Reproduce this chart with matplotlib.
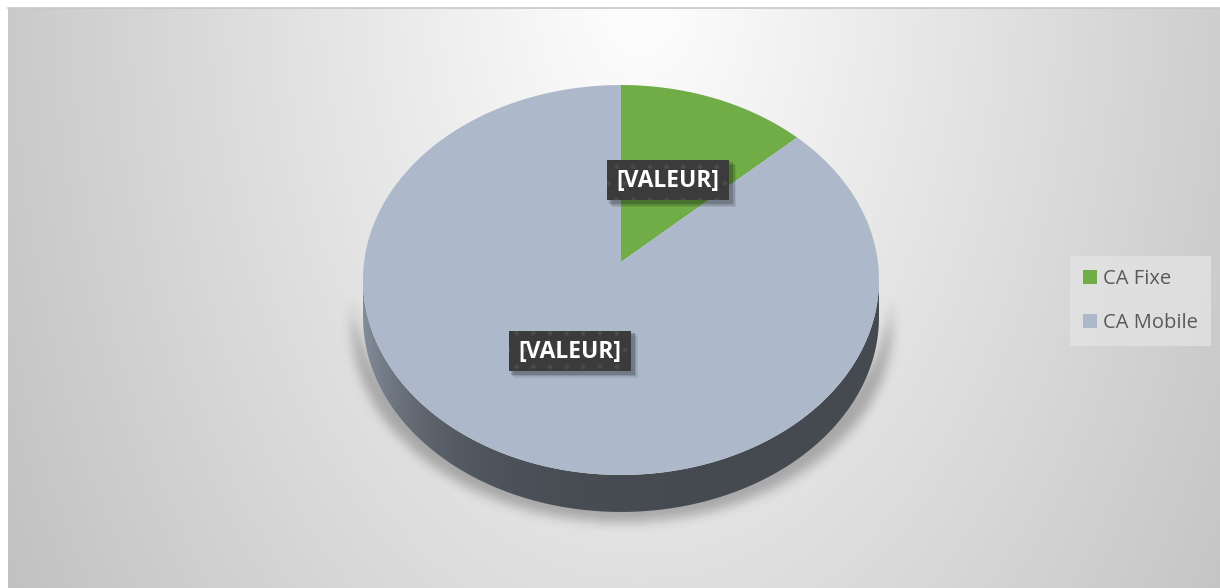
import numpy as np
import matplotlib
matplotlib.use("Agg")
import matplotlib.pyplot as plt
from matplotlib.patches import Polygon, Rectangle, Patch
from matplotlib.path import Path

# ---------------- data ----------------
categories = ["CA Fixe", "CA Mobile"]
values = [13, 87]
data_labels = ["[VALEUR]", "[VALEUR]"]
slice_colors = ["#70ad47", "#adb9ca"]

# ---------------- layout (pixel space) ----------------
W, H = 1220, 588
CX, CY = 621.0, 262.0      # projected centre of the top face
A, B = 256.9, 193.3        # projected radii
K = 0.0923                 # perspective strength
DEPTH = 37.0               # thickness of the disc in pixels

plt.rcParams['font.family'] = ['Open Sans', 'DejaVu Sans']

fig = plt.figure(figsize=(W / 100, H / 100), dpi=100)
ax = fig.add_axes([0, 0, 1, 1])
ax.set_xlim(0, W)
ax.set_ylim(H, 0)
ax.axis('off')


def proj(phi, rho=1.0, dy=0.0):
    u = rho * np.sin(phi)
    v = rho * np.cos(phi)
    w = 1 + K * v
    return CX + A * u / w, CY - B * v / w + dy


# ---------------- background ----------------
X0, Y0 = 8, 8
yy, xx = np.mgrid[Y0:H, X0:W].astype(float)
r = np.sqrt(((xx - 640) / 620) ** 2 + ((yy + 20) / 1000) ** 2)
bg = np.clip(255 - 52 * r, 150, 255) / 255.0
ax.imshow(np.dstack([bg, bg, bg]), extent=(X0, W, H, Y0), zorder=0,
          interpolation='bilinear', aspect='auto')
ax.plot([X0, W], [Y0, Y0], color='#c8c8c8', lw=1.2, zorder=1)

# ---------------- geometry ----------------
fracs = np.array(values, dtype=float) / np.sum(values)
bounds = np.concatenate([[0], np.cumsum(fracs)]) * 2 * np.pi
phiR = np.arctan2(np.sqrt(1 - K ** 2), -K)        # right silhouette
phiL = 2 * np.pi - phiR                           # left silhouette

# ---------------- shadow ----------------
ts = np.linspace(phiR, phiL, 300)
sx_top, sy_top = proj(ts)
sx_bot, sy_bot = proj(ts, dy=DEPTH)
body = np.column_stack([np.concatenate([sx_bot, sx_top[::-1]]),
                        np.concatenate([sy_bot, sy_top[::-1]])])
body[:, 0] = CX + (body[:, 0] - CX) * 1.045
body[:, 1] = body[:, 1] + 9
step = 2
gy, gx = np.mgrid[0:H:step, 0:W:step].astype(float)
mask = Path(body).contains_points(np.column_stack([gx.ravel(), gy.ravel()]))
mask = mask.reshape(gx.shape).astype(float)
fy = np.fft.fftfreq(mask.shape[0])[:, None]
fx = np.fft.fftfreq(mask.shape[1])[None, :]
sig = 5.5 / step
blur = np.real(np.fft.ifft2(np.fft.fft2(mask) *
                            np.exp(-2 * np.pi ** 2 * sig ** 2 * (fx ** 2 + fy ** 2))))
shadow = np.zeros(mask.shape + (4,))
shadow[..., 3] = np.clip(blur, 0, 1) * 0.26
ax.imshow(shadow, extent=(0, W, H, 0), zorder=2, interpolation='bilinear', aspect='auto')

# ---------------- side walls ----------------
xs_img = np.linspace(0, W, 600)
shade = 0.40 + 0.36 * np.exp(-np.clip(xs_img - 363, 0, None) / 70.0)
for i, col in enumerate(slice_colors):
    s0 = max(bounds[i], phiR)
    s1 = min(bounds[i + 1], phiL)
    if s0 >= s1:
        continue
    t = np.linspace(s0, s1, 200)
    tx, ty = proj(t)
    bx, by = proj(t, dy=DEPTH)
    poly = Polygon(np.column_stack([np.concatenate([tx, bx[::-1]]),
                                    np.concatenate([ty, by[::-1]])]),
                   closed=True, facecolor='none', edgecolor='none', zorder=3)
    ax.add_patch(poly)
    rgb = np.array(matplotlib.colors.to_rgb(col))
    img = np.clip(shade[None, :, None] * rgb[None, None, :], 0, 1)
    im = ax.imshow(img, extent=(0, W, H, 0), zorder=3, interpolation='bilinear',
                   aspect='auto')
    im.set_clip_path(poly)

# ---------------- top face ----------------
handles = []
for i, col in enumerate(slice_colors):
    t = np.linspace(bounds[i], bounds[i + 1], 300)
    px, py = proj(t)
    pts = np.column_stack([np.concatenate([[CX], px]), np.concatenate([[CY], py])])
    ax.add_patch(Polygon(pts, closed=True, facecolor=col, edgecolor='none', zorder=4))
    handles.append(Patch(facecolor=col, edgecolor='none', label=categories[i]))

# ---------------- data labels ----------------
BW, BH = 122, 40
for i, lab in enumerate(data_labels):
    mid = (bounds[i] + bounds[i + 1]) / 2
    lx, ly = proj(mid, rho=0.48)
    for k, (off, a) in enumerate([(6, 0.08), (4.5, 0.12), (3, 0.18)]):
        ax.add_patch(Rectangle((lx - BW / 2 + off - 1, ly - BH / 2 + off - 1),
                               BW + 2, BH + 2, facecolor='black', alpha=a,
                               edgecolor='none', zorder=5))
    ax.add_patch(Rectangle((lx - BW / 2, ly - BH / 2), BW, BH, facecolor='#3b3b3b',
                           edgecolor='none', zorder=6))
    ax.add_patch(Rectangle((lx - BW / 2, ly - BH / 2), BW, BH, facecolor='none',
                           edgecolor='#4a4a4a', hatch='.', lw=0, zorder=6))
    ax.text(lx, ly + 1, lab, ha='center', va='center', color='white',
            fontsize=16.5, fontweight='bold', zorder=7)

# ---------------- legend ----------------
leg = ax.legend(handles=handles, loc='center left',
                bbox_to_anchor=(1070 / W, 1 - 301 / H),
                fontsize=14.5, labelcolor='#595959', frameon=True, fancybox=False,
                facecolor='#e4e4e4', edgecolor='none', framealpha=0.75,
                handlelength=0.7, handleheight=0.7, handletextpad=0.3,
                labelspacing=1.2, borderpad=0.65, borderaxespad=0)
leg.set_zorder(8)

fig.savefig("out.png", dpi=100)
